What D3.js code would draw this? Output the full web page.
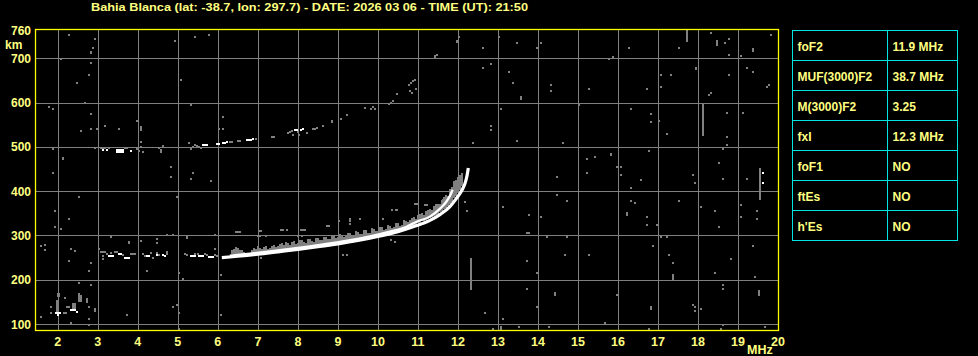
<!DOCTYPE html>
<html>
<head>
<meta charset="utf-8">
<script src="https://cdn.jsdelivr.net/npm/d3@7"></script>
<style>
  html, body { margin: 0; padding: 0; background: #000; }
  svg { display: block; }
  text { font-family: "Liberation Sans", Arial, sans-serif; font-weight: bold; }
</style>
</head>
<body>
<script>
// ---------------- DATA ----------------
const titleText = "Bahia Blanca (lat: -38.7, lon: 297.7) - DATE: 2026 03 06 - TIME (UT): 21:50";
const freqTicks = [2, 3, 4, 5, 6, 7, 8, 9, 10, 11, 12, 13, 14, 15, 16, 17, 18, 19, 20];
const freqGrid = [2, 3, 4, 5, 6, 7, 8, 9, 10, 11, 12, 13, 14, 15, 16, 17, 18, 19];
const heightTicks = [100, 200, 300, 400, 500, 600, 700];
const heightTopLabel = 760;

const paramNames = ["foF2", "MUF(3000)F2", "M(3000)F2", "fxI", "foF1", "ftEs", "h'Es"];
const paramValues = ["11.9 MHz", "38.7 MHz", "3.25", "12.3 MHz", "NO", "NO", "NO"];

// main F2 traces [MHz, km]
const xTrace = [[6.1,250],[6.5,253],[7.0,257.5],[7.5,263],[8.0,268.5],[8.5,274.5],[9.0,281],[9.5,288.5],[10.0,297.5],[10.5,308.5],[10.9,320],[11.3,334],[11.55,347],[11.8,365],[11.95,382],[12.1,402],[12.18,418],[12.23,436],[12.26,452]];
const oTrace = [[6.3,254.5],[6.8,259],[7.3,264],[7.8,269.5],[8.3,275.5],[8.8,282],[9.3,289.5],[9.8,298],[10.3,308.5],[10.7,319],[10.97,331],[11.31,343],[11.56,361],[11.71,376],[11.81,391],[11.87,403]];

// gray spread above the F2 trace [MHz, km low, km high]
const spreadF2 = [[6.35,257,266],[6.4,258,270],[6.45,257,274],[6.5,256,272],[6.55,257,266],[6.6,257,268],[6.65,258,262],[6.85,259,266],[6.9,260,272],[6.95,261,270],[7.0,260,275],[7.05,261,272],[7.1,261,270],[7.15,262,274],[7.2,262,276],[7.25,263,270],[7.3,263,272],[7.35,264,277],[7.4,264,278],[7.45,265,274],[7.5,266,275],[7.55,266,280],[7.6,267,282],[7.65,267,279],[7.7,268,285],[7.75,268,283],[7.8,269,278],[7.85,270,286],[7.9,270,288],[7.95,271,281],[8.0,271,283],[8.05,272,289],[8.1,272,290],[8.15,273,286],[8.2,273,284],[8.25,274,291],[8.3,275,292],[8.35,275,288],[8.4,276,286],[8.45,277,294],[8.5,277,295],[8.55,278,289],[8.6,278,290],[8.65,279,297],[8.7,280,297],[8.75,280,291],[8.8,281,292],[8.85,282,299],[8.9,282,300],[8.95,283,294],[9.0,284,296],[9.05,285,303],[9.1,285,302],[9.15,286,296],[9.2,287,298],[9.25,288,306],[9.3,288,305],[9.35,289,299],[9.4,290,300],[9.45,291,309],[9.5,291,308],[9.55,292,303],[9.6,293,304],[9.65,294,313],[9.7,295,312],[9.75,296,305],[9.8,297,306],[9.85,298,316],[9.9,299,315],[9.95,300,310],[10.0,301,311],[10.05,302,319],[10.1,303,318],[10.15,304,313],[10.2,305,314],[10.25,306,323],[10.3,307,322],[10.35,308,316],[10.4,309,318],[10.45,311,329],[10.5,312,328],[10.55,313,322],[10.6,315,324],[10.65,316,334],[10.7,318,333],[10.75,319,330],[10.8,321,335],[10.85,322,340],[10.9,324,341],[10.95,325,338],[11.0,327,345],[11.05,329,349],[11.1,331,350],[11.15,333,347],[11.2,335,355],[11.25,337,358],[11.3,339,360],[11.35,341,357],[11.4,344,366],[11.45,346,370],[11.5,349,372],[11.55,352,370],[11.6,356,380],[11.65,359,386],[11.7,363,392],[11.75,367,390],[11.8,372,405],[11.85,377,410],[11.9,383,420],[11.95,389,425],[12.0,395,432],[12.05,402,436],[12.1,410,440]];

// isolated gray echoes near F2 trace [MHz, km]
const faintF2 = [[6.46,308],[6.51,308],[6.56,308],[7.03,310],[7.08,310],[7.58,312],[7.63,312],[7.73,312],[8.08,313],[8.13,313],[8.18,313],[8.73,322],[8.78,322],[9.02,333],[9.31,326],[9.31,332],[9.31,338],[9.56,336],[10.46,357],[10.93,372],[10.98,372],[11.18,369],[11.23,369],[11.63,380],[11.91,410],[11.91,420],[12.08,425],[12.08,435],[7.0,299],[7.05,299],[7.2,299],[8.0,299],[8.1,299]];

// second hop echoes
const hop2White = [[3.13,493],[3.23,493],[3.48,493],[3.53,493],[3.58,493],[3.63,493],[3.48,489],[3.53,489],[3.58,489],[3.63,489],[3.83,491],[5.63,504],[5.68,504],[5.73,504],[5.98,506],[6.03,506],[6.13,508],[6.18,508],[6.23,510],[6.73,515],[6.78,515],[6.83,515],[6.88,517],[7.93,538],[7.98,538],[8.08,538],[8.13,540]];
const hop2Gray = [[2.93,497],[3.08,497],[3.13,497],[3.18,497],[3.28,497],[3.68,497],[3.73,497],[3.98,495],[4.03,490],[4.08,500],[4.08,510],[4.13,489],[4.53,498],[4.58,493],[4.63,503],[4.58,489],[5.33,495],[5.38,500],[5.43,505],[5.48,502],[5.53,499],[5.58,497],[5.28,508],[6.3,511],[6.35,511],[6.5,514],[6.55,514],[6.95,518],[7.35,522],[7.4,522],[7.75,531],[7.8,533],[7.85,535],[7.88,527],[8.03,527],[8.0,533],[8.23,532],[8.38,541],[8.43,541],[8.48,543],[8.63,547],[8.86,555],[8.86,558],[9.08,563],[9.23,572],[9.68,588],[9.83,585],[9.88,590],[9.93,585],[10.28,596],[10.33,600],[10.38,604],[10.48,619],[10.78,640],[10.83,645],[10.88,648],[10.93,651],[10.8,625],[10.85,622],[10.95,630]];

// lower (~250 km) echoes
const lowWhite = [[3.28,253],[3.33,253],[3.38,253],[3.53,257],[3.58,257],[3.68,250],[3.73,250],[3.78,250],[4.23,254],[4.28,254],[4.48,255],[4.63,255],[4.68,254],[5.33,253],[5.38,253],[5.43,253],[5.53,253],[5.58,253],[5.63,253],[5.78,252],[5.83,252],[5.88,252]];
const lowGray = [[3.08,262],[3.13,262],[3.18,262],[3.23,258],[3.33,261],[3.43,262],[3.48,262],[3.63,256],[3.83,258],[3.88,258],[3.93,258],[3.13,253],[4.13,258],[4.18,254],[4.33,260],[4.38,250],[4.48,260],[4.53,256],[4.73,258],[4.73,262],[5.18,258],[5.23,255],[5.43,257],[5.5,258],[5.68,257],[5.73,256],[5.93,255],[5.98,253]];

// E-region cluster
const eWhite = [[1.95,126],[2.0,126],[2.05,126],[2.0,121],[2.33,131],[2.38,131],[2.43,131],[2.48,128]];
const eGray = [[1.83,139],[1.83,125],[2.18,159],[2.23,139],[2.28,139],[2.78,139],[2.15,124],[2.2,124]];
const eStreaks = [[2.0,161,170],[2.03,161,170],[1.98,125,154],[2.38,132,147],[2.43,132,147],[2.53,150,170],[2.58,150,165],[2.73,147,159],[2.93,127,136]];

// background noise
const noiseDots = [[12.03,749],[13.03,749],[13.48,735],[14.08,735],[12.63,722],[13.98,722],[11.48,708],[15.78,699],[16.28,722],[17.53,722],[18.33,758],[18.68,735],[18.78,744],[18.78,708],[19.08,704],[19.83,753],[12.63,677],[12.83,686],[13.28,668],[13.38,645],[14.33,640],[14.33,627],[15.28,631],[16.73,631],[17.08,663],[17.33,663],[17.08,636],[18.78,663],[19.23,677],[19.38,668],[18.28,618],[18.33,622],[19.78,640],[19.73,636],[15.03,595],[13.08,586],[16.33,586],[16.83,573],[16.83,555],[17.03,559],[17.23,528],[18.73,577],[19.13,577],[18.73,523],[12.83,546],[12.83,537],[12.38,509],[13.48,514],[14.63,509],[18.73,505],[18.63,496],[18.53,464],[16.78,491],[15.43,478],[15.23,473],[15.23,442],[15.98,455],[16.08,455],
[14.48,433],[16.08,437],[16.58,424],[17.88,437],[17.93,419],[18.63,428],[19.23,428],[14.48,392],[14.73,378],[16.33,406],[16.33,378],[16.43,374],[17.53,378],[13.13,365],[13.78,347],[14.08,342],[16.73,342],[16.73,324],[16.98,324],[18.08,365],[18.43,356],[18.53,320],[19.08,369],[19.08,342],[19.48,356],[19.48,338],[13.73,306],[13.78,306],[14.23,297],[14.73,297],[17.08,297],[17.23,297],[16.88,275],[14.68,256],[15.28,256],[13.73,243],[17.28,256],[17.38,238],[18.83,247],[19.38,275],[13.98,216],[18.43,216],[19.43,207],[18.63,189],[18.63,180],[13.73,180],[15.98,166],[12.68,125],[13.98,139],[17.88,144],[17.93,139],[17.93,130],[18.08,135],[13.13,112],[12.88,89],[13.53,94],[14.28,94],[15.68,103],[16.78,89],[18.63,98],[18.58,89],[19.68,94],
[2.28,753],[2.93,744],[2.88,722],[2.08,699],[2.83,690],[2.78,663],[2.48,645],[2.68,600],[1.78,591],[1.88,586],[2.83,573],[2.58,536],[2.83,541],[2.98,541],[3.18,546],[1.88,496],[1.88,442],[2.53,387],[1.93,356],[2.28,338],[1.93,320],[2.08,315],[1.58,275],[1.68,279],[1.68,266],[2.33,270],[2.28,243],[2.83,238],[2.78,220],[3.03,270],[2.53,193],[2.83,189],[1.58,116],[2.33,103],[2.78,112],[2.78,98],
[4.93,739],[5.42,749],[5.78,753],[5.08,650],[5.33,595],[3.53,541],[3.98,559],[6.13,568],[6.03,541],[6.13,541],[4.83,455],[4.83,433],[5.38,442],[5.33,428],[4.98,387],[3.33,297],[4.08,288],[4.48,293],[4.48,284],[4.73,302],[4.88,302],[3.13,247],[4.23,220],[5.03,216],[5.13,202],[4.98,143],[4.88,139],[5.03,125],[3.73,121],[5.03,89],[6.08,121],[5.83,423],[5.93,301],[5.93,270],[6.08,210],[7.08,248],[9.13,256],[9.23,256],[10.35,357],[10.48,357],[10.13,337],[12.23,355],[12.18,376],[10.33,290],[10.43,286]];
const noiseWhite = [[19.63,442],[19.63,419]];
const noiseStreaks = [[11.98,735,741],[11.43,698,708],[15.88,698,704],[17.73,738,764],[18.48,728,741],[19.38,715,723],[13.58,607,615],[17.96,675,681],[18.13,525,599],[15.83,480,487],[19.56,380,452],[16.23,346,354],[17.38,199,213],[14.43,163,173],[19.53,163,177],[16.83,132,141],[13.08,86,95],[12.32,177,249],[2.83,711,717],[2.13,472,478],[2.43,261,266],[4.08,534,546],[3.78,282,288],[5.23,293,302]];

// ---------------- LAYOUT ----------------
const W = 978, H = 356;
const plot = { left: 35, right: 778, top: 29, bottom: 330 };
const fDomain = [1.43, 20];
const hDomain = [86.5, 766];
const colors = { bg: "#000000", text: "#ffff80", frame: "#ffff00", grid: "#808080", echoGray: "#808080", echoWhite: "#ffffff", table: "#00e4e4" };

const svg = d3.select("body").append("svg").attr("width", W).attr("height", H);
svg.append("rect").attr("width", W).attr("height", H).attr("fill", colors.bg);

const xs = d3.scaleLinear().domain(fDomain).range([plot.left, plot.right]);
const ys = d3.scaleLinear().domain(hDomain).range([plot.bottom, plot.top]);

// grid
const g = svg.append("g").attr("shape-rendering", "crispEdges");
g.selectAll(".vg").data(freqGrid).enter().append("line")
  .attr("x1", d => Math.round(xs(d)) + 0.5).attr("x2", d => Math.round(xs(d)) + 0.5)
  .attr("y1", plot.top).attr("y2", plot.bottom)
  .attr("stroke", colors.grid).attr("stroke-width", 1);
g.selectAll(".hg").data(heightTicks).enter().append("line")
  .attr("y1", d => Math.round(ys(d)) + 0.5).attr("y2", d => Math.round(ys(d)) + 0.5)
  .attr("x1", plot.left).attr("x2", plot.right)
  .attr("stroke", colors.grid).attr("stroke-width", 1);

svg.append("clipPath").attr("id", "clip").append("rect")
  .attr("x", plot.left).attr("y", plot.top).attr("width", plot.right - plot.left).attr("height", plot.bottom - plot.top);
const ech = svg.append("g").attr("clip-path", "url(#clip)").attr("shape-rendering", "crispEdges");

function cells(data, color) {
  ech.append("g").selectAll("rect").data(data).enter().append("rect")
    .attr("x", d => Math.round(xs(d[0])) - 1).attr("y", d => Math.round(ys(d[1])) - 1)
    .attr("width", 2).attr("height", 2).attr("fill", color);
}
function spans(data, color) {
  ech.append("g").selectAll("rect").data(data).enter().append("rect")
    .attr("x", d => Math.round(xs(d[0])) - 1).attr("y", d => Math.round(ys(d[2])))
    .attr("width", 2).attr("height", d => Math.max(2, Math.round(ys(d[1]) - ys(d[2]))))
    .attr("fill", color);
}

cells(noiseDots, colors.echoGray);
spans(noiseStreaks, colors.echoGray);
cells(noiseWhite, colors.echoWhite);
spans(eStreaks, colors.echoGray);
cells(eGray, colors.echoGray);
cells(eWhite, colors.echoWhite);
cells(lowGray, colors.echoGray);
cells(lowWhite, colors.echoWhite);
cells(hop2Gray, colors.echoGray);
cells(hop2White, colors.echoWhite);
spans(spreadF2, colors.echoGray);
cells(faintF2, colors.echoGray);

const line = d3.line().x(d => xs(d[0])).y(d => ys(d[1])).curve(d3.curveMonotoneX);
svg.append("g").attr("clip-path", "url(#clip)").selectAll("path").data([xTrace, oTrace]).enter().append("path")
  .attr("d", line).attr("fill", "none").attr("stroke", colors.echoWhite)
  .attr("stroke-width", (d, i) => i === 0 ? 3.2 : 2.3).attr("stroke-linecap", "butt");

// frame
svg.append("rect").attr("x", plot.left + 0.5).attr("y", plot.top + 0.5)
  .attr("width", plot.right - plot.left).attr("height", plot.bottom - plot.top)
  .attr("fill", "none").attr("stroke", colors.frame).attr("stroke-width", 1.3);

// axis labels
svg.append("g").selectAll("text").data(freqTicks).enter().append("text")
  .attr("x", d => xs(d)).attr("y", 346).attr("text-anchor", "middle")
  .attr("fill", colors.text).attr("font-size", 12.5).text(d => d);
svg.append("text").attr("x", 747).attr("y", 353.5).attr("fill", colors.text).attr("font-size", 12.5).text("MHz");

svg.append("g").selectAll("text").data(heightTicks).enter().append("text")
  .attr("x", 31).attr("y", d => ys(d) + 4.5).attr("text-anchor", "end")
  .attr("fill", colors.text).attr("font-size", 12).text(d => d);
svg.append("text").attr("x", 31).attr("y", 35).attr("text-anchor", "end").attr("fill", colors.text).attr("font-size", 12).text(heightTopLabel);
svg.append("text").attr("x", 5).attr("y", 49.3).attr("fill", colors.text).attr("font-size", 12).text("km");

// title
svg.append("text").attr("x", 91).attr("y", 10.7).attr("fill", colors.text).attr("font-size", 11.5)
  .attr("textLength", 437).attr("lengthAdjust", "spacingAndGlyphs").text(titleText);

// table
const tbl = { left: 792.5, mid: 887.5, right: 957.5, top: 30.5, rowH: 30 };
const tg = svg.append("g");
tg.selectAll("rect").data(paramNames).enter().append("rect")
  .attr("x", tbl.left).attr("y", (d, i) => tbl.top + i * tbl.rowH)
  .attr("width", tbl.right - tbl.left).attr("height", tbl.rowH)
  .attr("fill", "none").attr("stroke", colors.table).attr("stroke-width", 1).attr("shape-rendering", "crispEdges");
tg.append("line").attr("x1", tbl.mid).attr("x2", tbl.mid).attr("y1", tbl.top).attr("y2", tbl.top + paramNames.length * tbl.rowH)
  .attr("stroke", colors.table).attr("stroke-width", 1).attr("shape-rendering", "crispEdges");
tg.selectAll(".pn").data(paramNames).enter().append("text")
  .attr("x", tbl.left + 5).attr("y", (d, i) => tbl.top + i * tbl.rowH + 20.5)
  .attr("fill", colors.text).attr("font-size", 12).text(d => d);
tg.selectAll(".pv").data(paramValues).enter().append("text")
  .attr("x", tbl.mid + 5).attr("y", (d, i) => tbl.top + i * tbl.rowH + 20.5)
  .attr("fill", colors.text).attr("font-size", 12).text(d => d);
</script>
</body>
</html>
